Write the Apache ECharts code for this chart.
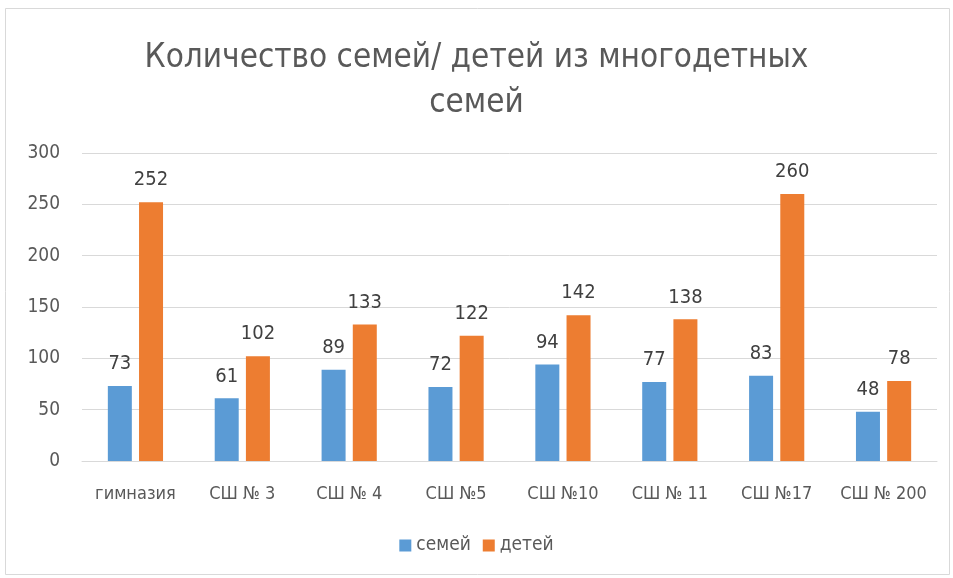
<!DOCTYPE html>
<html>
<head>
<meta charset="UTF-8">
<title>Многодетные семьи</title>
<script type="text/javascript" src="https://cdn.jsdelivr.net/npm/echarts@6/dist/echarts.min.js"></script>
</head>
<body style="margin:0;background:#fff;">
<div id="container" style="width:953px;height:578px;"></div>
<script type="text/javascript">
var schools = ['гимназия', 'СШ № 3', 'СШ № 4', 'СШ №5', 'СШ №10', 'СШ № 11', 'СШ №17', 'СШ № 200'];
var families = [73, 61, 89, 72, 94, 77, 83, 48];
var children = [252, 102, 133, 122, 142, 138, 260, 78];
var yTicks = { min: 0, max: 300, step: 50 };

var font = "'Liberation Sans Narrow', 'DejaVu Sans Condensed', 'Noto Sans', sans-serif";
var myChart = echarts.init(document.getElementById('container'));

var label = {
    show: true,
    position: 'top',
    distance: 12,
    color: '#404040',
    fontSize: 20,
    fontFamily: font
};

var option = {
    backgroundColor: '#fff',
    title: {
        text: 'Количество семей/ детей из многодетных\nсемей',
        left: 'center',
        top: 31,
        textStyle: {
            color: '#595959',
            fontSize: 33,
            fontWeight: 'normal',
            fontFamily: font,
            lineHeight: 45
        }
    },
    graphic: [{
        type: 'rect',
        shape: { x: 5.5, y: 8.5, width: 944, height: 566 },
        style: { fill: 'none', stroke: '#d9d9d9', lineWidth: 1 },
        silent: true
    }],
    legend: {
        bottom: 18,
        left: 'center',
        itemWidth: 12,
        itemHeight: 12,
        itemGap: 12,
        icon: 'rect',
        textStyle: { color: '#595959', fontSize: 19, fontFamily: font }
    },
    grid: {
        left: 82,
        right: 16,
        top: 153,
        bottom: 117,
        containLabel: false
    },
    xAxis: {
        type: 'category',
        data: schools,
        axisLine: { lineStyle: { color: '#d9d9d9', width: 1 } },
        axisTick: { show: false },
        axisLabel: {
            color: '#595959',
            fontSize: 18,
            fontFamily: font,
            margin: 24,
            interval: 0
        }
    },
    yAxis: {
        type: 'value',
        min: yTicks.min,
        max: yTicks.max,
        interval: yTicks.step,
        axisLine: { show: false },
        axisTick: { show: false },
        splitLine: { lineStyle: { color: '#d9d9d9', width: 1 } },
        axisLabel: {
            color: '#595959',
            fontSize: 19,
            fontFamily: font,
            margin: 22
        }
    },
    series: [
        {
            name: 'семей',
            type: 'bar',
            data: families,
            barWidth: 24,
            barGap: '30%',
            itemStyle: { color: '#5b9bd5' },
            label: label
        },
        {
            name: 'детей',
            type: 'bar',
            data: children,
            barWidth: 24,
            itemStyle: { color: '#ed7d31' },
            label: label
        }
    ]
};

myChart.setOption(option);
</script>
</body>
</html>
